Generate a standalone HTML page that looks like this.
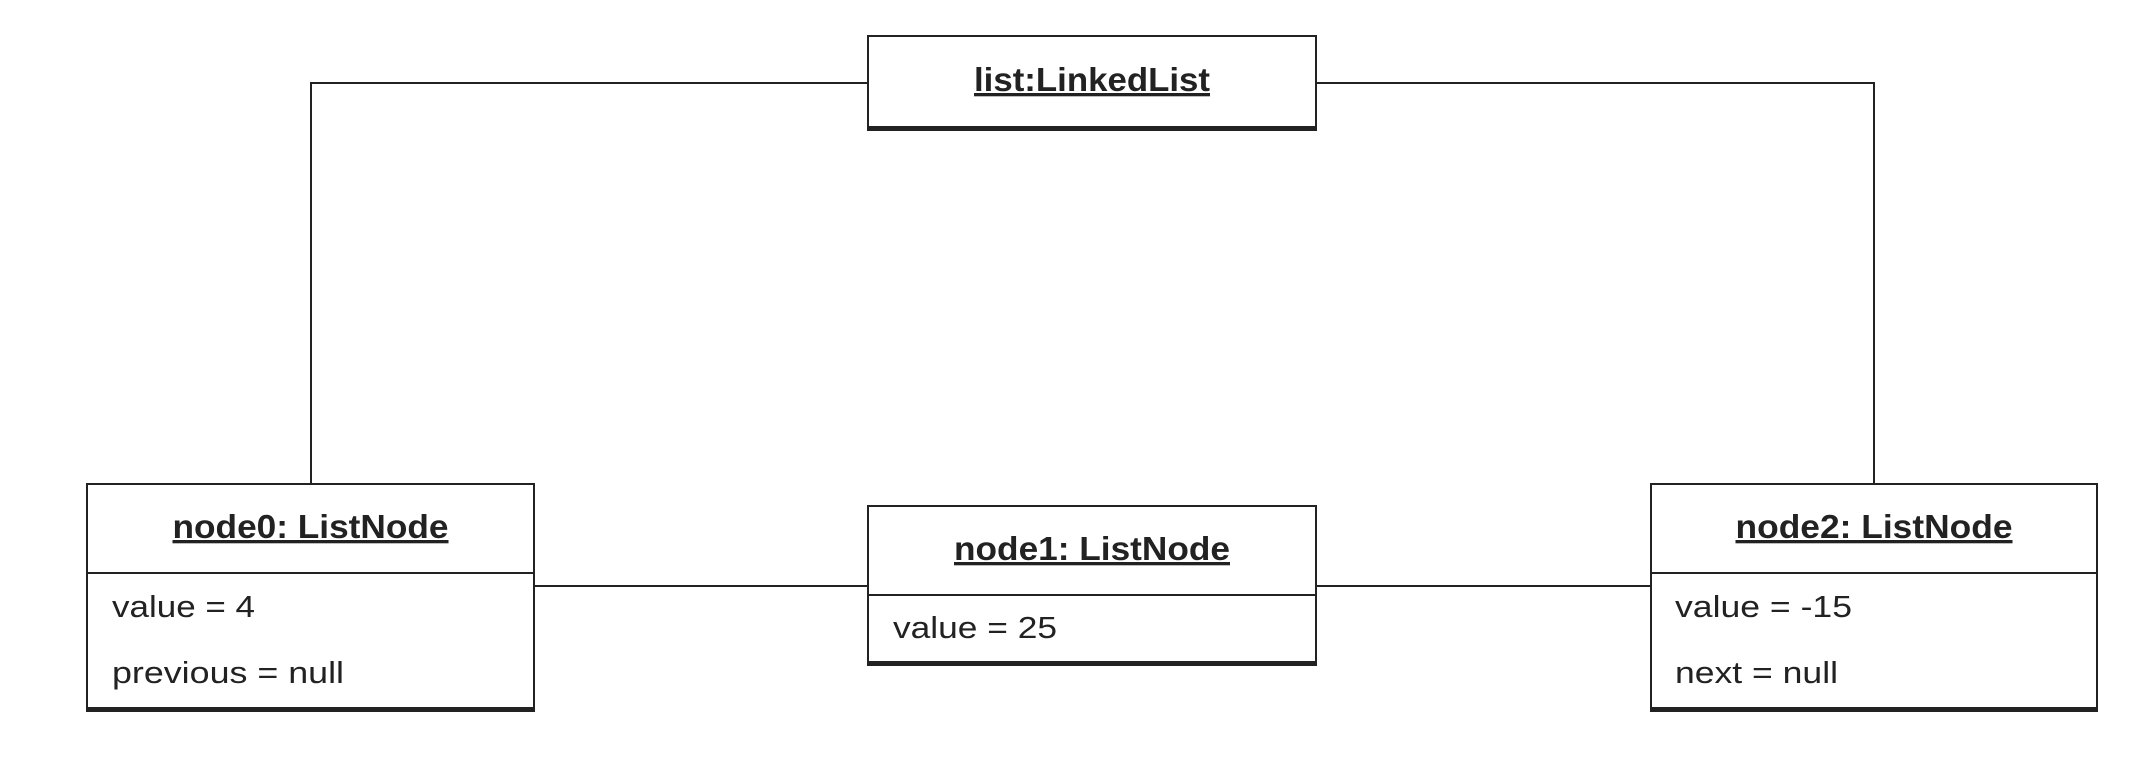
<!DOCTYPE html>
<html><head><meta charset="utf-8"><style>html,body{margin:0;padding:0;background:#fff;}svg{display:block;}</style></head>
<body>
<svg width="2142" height="758" viewBox="0 0 2142 758" xmlns="http://www.w3.org/2000/svg">
<g fill="none" stroke="#222" stroke-width="2">
<polyline points="868,83 311,83 311,484"/>
<polyline points="1316,83 1874,83 1874,484"/>
<line x1="534" y1="586" x2="868" y2="586"/>
<line x1="1316" y1="586" x2="1651" y2="586"/>
<rect x="868" y="36" width="448" height="94" fill="#fff"/>
<rect x="87" y="484" width="447" height="227" fill="#fff"/>
<line x1="87" y1="573" x2="534" y2="573"/>
<rect x="868" y="506" width="448" height="159" fill="#fff"/>
<line x1="868" y1="595" x2="1316" y2="595"/>
<rect x="1651" y="484" width="446" height="227" fill="#fff"/>
<line x1="1651" y1="573" x2="2097" y2="573"/>
</g>
<g fill="#222">
<rect x="868" y="126" width="448" height="4"/>
<rect x="87" y="707" width="447" height="4"/>
<rect x="868" y="661" width="448" height="4"/>
<rect x="1651" y="707" width="446" height="4"/>
</g>
<g font-family="Liberation Sans, Arial, sans-serif" fill="#222">
<g font-weight="bold" text-decoration="underline" text-anchor="middle">
<text x="1092" y="91" font-size="33" textLength="236" lengthAdjust="spacingAndGlyphs">list:LinkedList</text>
<text x="310.5" y="538" font-size="33" textLength="276" lengthAdjust="spacingAndGlyphs">node0: ListNode</text>
<text x="1092" y="560" font-size="33" textLength="276" lengthAdjust="spacingAndGlyphs">node1: ListNode</text>
<text x="1874" y="538" font-size="33" textLength="277" lengthAdjust="spacingAndGlyphs">node2: ListNode</text>
</g>
<g font-size="31">
<text x="112" y="617" textLength="143" lengthAdjust="spacingAndGlyphs">value = 4</text>
<text x="112" y="683" textLength="232" lengthAdjust="spacingAndGlyphs">previous = null</text>
<text x="893" y="638" textLength="164" lengthAdjust="spacingAndGlyphs">value = 25</text>
<text x="1675" y="617" textLength="177" lengthAdjust="spacingAndGlyphs">value = -15</text>
<text x="1675" y="683" textLength="163" lengthAdjust="spacingAndGlyphs">next = null</text>
</g>
</g>
</svg>
</body></html>
